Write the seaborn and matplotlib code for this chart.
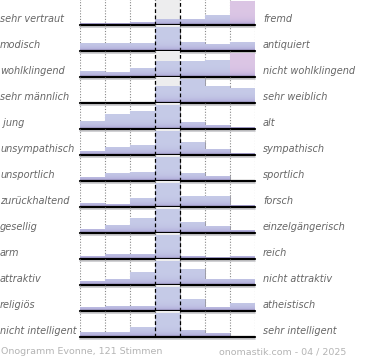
import matplotlib
matplotlib.use("Agg")
import matplotlib.pyplot as plt
import matplotlib.colors as mcolors
import seaborn as sns
import numpy as np
import pandas as pd

# Onogramm data, bar heights (px, each row normalised to its max)
left_labels = ["sehr vertraut", "modisch", "wohlklingend", "sehr männlich", " jung",
               "unsympathisch", "unsportlich", "zurückhaltend", "gesellig", "arm",
               "attraktiv", "religiös", "nicht intelligent"]
right_labels = ["fremd", "antiquiert", "nicht wohlklingend", "sehr weiblich", "alt",
                "sympathisch", "sportlich", "forsch", "einzelgängerisch", "reich",
                "nicht attraktiv", "atheistisch", "sehr intelligent"]
values = [
    [2, 2, 3.3, 5.7, 6.3, 9.7, 24],
    [8, 8, 8, 25, 9.3, 7.3, 9.3],
    [6, 4.7, 8.7, 15.7, 15.7, 17, 24.3],
    [0, 0, 0, 16.7, 24, 17, 15],
    [7.7, 14.7, 17.7, 24, 7.3, 4.3, 2.3],
    [4.3, 7.7, 9.7, 24, 12.7, 5.7, 2.3],
    [4.3, 8, 9, 24, 7.7, 4.7, 1.3],
    [4.3, 3, 8.7, 24, 11.3, 11.3, 2.3],
    [4, 8.3, 15.3, 24, 11.3, 7.3, 3],
    [2.5, 5.3, 5.3, 24, 3, 1.7, 2.7],
    [4, 6, 13, 24, 16, 5.7, 5.7],
    [3.7, 4.7, 4.7, 24, 11.7, 4.3, 7.7],
    [5.3, 5.3, 10.3, 24, 7.3, 4, 1],
]
# bars drawn in pink (row, column)
pink_bars = [(0, 6), (2, 6)]
footer_left = "Onogramm Evonne, 121 Stimmen"
footer_right = "onomastik.com - 04 / 2025"

sns.set_style("white")
plt.rcParams["font.family"] = ["DejaVu Sans"]

W, H = 370, 360
fig = plt.figure(figsize=(W / 100, H / 100), dpi=100)

x0, x1 = 80, 255
row_h = 26
first_base = 25

blue_top = np.array(mcolors.to_rgb("#c6cbe8"))
pink_top = np.array(mcolors.to_rgb("#dcc6e5"))
bottom_col = np.array(mcolors.to_rgb("#a69bd2"))


def gradient(top):
    n = 100
    t = np.linspace(0, 1, n)[:, None]  # 0 = bottom
    w = np.exp(-t / 0.12)[:, :, None]
    img = top[None, None, :] * (1 - w) + bottom_col[None, None, :] * w
    return img


for i, vals in enumerate(values):
    base = first_base + row_h * i
    ax = fig.add_axes([x0 / W, 1 - base / H, (x1 - x0) / W, row_h / H])
    df = pd.DataFrame({"col": list(range(7)), "v": vals})
    ax.axvspan(2.5, 3.5, color="#ededee", zorder=0, lw=0)
    sns.barplot(data=df, x="col", y="v", ax=ax, width=1.0, color="#c6cbe8",
                edgecolor="#9c9ca8", linewidth=0.7, zorder=2)
    ylim = max(vals) * row_h / 24.3
    ax.set_xlim(-0.5, 6.5)
    ax.set_ylim(0, ylim)
    for j, p in enumerate(ax.containers[0]):
        top = pink_top if (i, j) in pink_bars else blue_top
        im = ax.imshow(gradient(top), extent=(-0.5, 6.5, 0, ylim), origin="lower",
                       aspect="auto", zorder=2.5)
        im.set_clip_path(p)
    for xv in [-0.5, 0.5, 1.5, 4.5, 5.5, 6.5]:
        ax.axvline(xv, color="#888888", ls=(0, (1, 1.5)), lw=0.8, zorder=1)
    for xv in [2.5, 3.5]:
        ax.axvline(xv, color="black", ls=(0, (3, 2)), lw=0.9, zorder=3)
    ax.axhline(-ylim * 0.06, color="#c8c8cc", lw=1.2, zorder=3, clip_on=False)
    ax.axhline(0, color="black", lw=1.6, zorder=4, clip_on=False)
    ax.set_axis_off()

    fig.text(0 / W, 1 - (base - 6) / H, left_labels[i], ha="left", va="center",
             fontsize=7, style="italic", color="#666666")
    fig.text(263 / W, 1 - (base - 6) / H, right_labels[i], ha="left", va="center",
             fontsize=7, style="italic", color="#666666")

fig.text(1 / W, 1 - 352 / H, footer_left, ha="left", va="center",
         fontsize=6.8, color="#b4b4b4")
fig.text(346 / W, 1 - 352 / H, footer_right, ha="right", va="center",
         fontsize=6.8, color="#b4b4b4")

fig.savefig("out.png", dpi=100)
